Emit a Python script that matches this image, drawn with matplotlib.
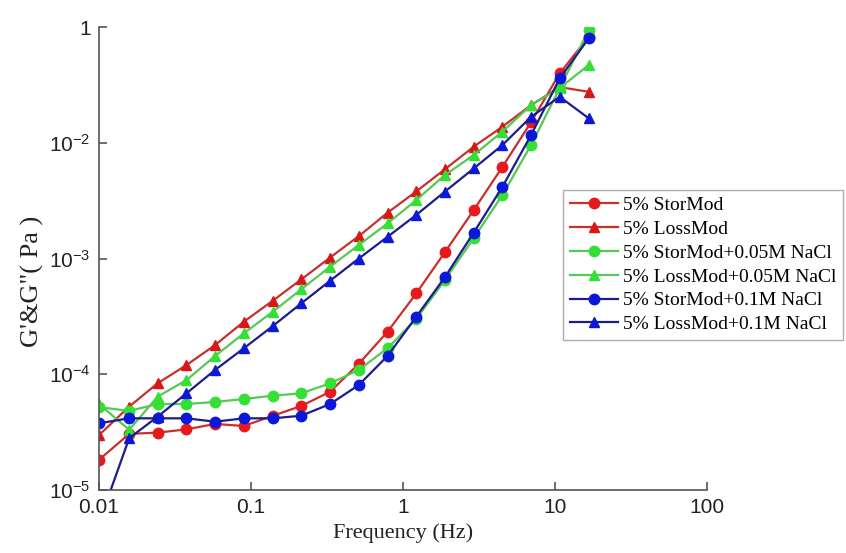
import numpy as np
import matplotlib.pyplot as plt
from matplotlib.ticker import FixedLocator, FixedFormatter, NullLocator

plt.rcParams["mathtext.fontset"] = "custom"
plt.rcParams["mathtext.rm"] = "Liberation Sans"
plt.rcParams["mathtext.it"] = "Liberation Sans"

OUT_PLOT = "out.png"

# oscillation frequency sweep (Hz)
freq = [0.01, 0.0158, 0.0243, 0.0376, 0.0581, 0.0898, 0.139, 0.214, 0.331,
        0.511, 0.79, 1.22, 1.88, 2.91, 4.5, 6.95, 10.7, 16.6]

# moduli (Pa)
stor_5 = [1.82e-5, 3.05e-5, 3.13e-5, 3.34e-5, 3.72e-5, 3.57e-5, 4.38e-5, 5.32e-5, 7.06e-5,
          1.23e-4, 2.33e-4, 5.0e-4, 1.13e-3, 2.62e-3, 6.2e-3, 1.51e-2, 3.98e-2, 8.25e-2]
loss_5 = [2.98e-5, 5.25e-5, 8.35e-5, 1.20e-4, 1.79e-4, 2.85e-4, 4.32e-4, 6.6e-4, 1.02e-3,
          1.56e-3, 2.49e-3, 3.8e-3, 5.9e-3, 9.25e-3, 1.38e-2, 2.12e-2, 3.03e-2, 2.76e-2]
stor_005 = [5.2e-5, 4.82e-5, 5.53e-5, 5.53e-5, 5.76e-5, 6.11e-5, 6.53e-5, 6.84e-5, 8.35e-5,
            1.09e-4, 1.68e-4, 3.0e-4, 6.5e-4, 1.5e-3, 3.54e-3, 9.6e-3, 2.97e-2, 9.4e-2]
loss_005 = [5.53e-5, 3.31e-5, 6.4e-5, 8.9e-5, 1.44e-4, 2.26e-4, 3.47e-4, 5.42e-4, 8.5e-4,
            1.31e-3, 2.01e-3, 3.2e-3, 5.26e-3, 7.84e-3, 1.25e-2, 2.12e-2, 2.97e-2, 4.7e-2]
stor_01 = [3.77e-5, 4.16e-5, 4.16e-5, 4.16e-5, 3.89e-5, 4.16e-5, 4.16e-5, 4.38e-5, 5.53e-5,
           8.07e-5, 1.44e-4, 3.14e-4, 6.88e-4, 1.67e-3, 4.17e-3, 1.17e-2, 3.6e-2, 7.98e-2]
loss_01 = [5.2e-6, 2.8e-5, 4.3e-5, 6.84e-5, 1.09e-4, 1.68e-4, 2.61e-4, 4.1e-4, 6.43e-4,
           1.0e-3, 1.54e-3, 2.38e-3, 3.78e-3, 6.0e-3, 9.57e-3, 1.68e-2, 2.5e-2, 1.63e-2]

labels = ["5% StorMod", "5% LossMod",
          "5% StorMod+0.05M NaCl", "5% LossMod+0.05M NaCl",
          "5% StorMod+0.1M NaCl", "5% LossMod+0.1M NaCl"]
series = [stor_5, loss_5, stor_005, loss_005, stor_01, loss_01]
markers = ["o", "^", "o", "^", "o", "^"]
line_colors = ["#c8302c", "#c8302c", "#55c855", "#55c855", "#1c1c8a", "#1c1c8a"]
face_colors = ["#e8191c", "#d81818", "#33e033", "#33e033", "#0c18d8", "#0c18d8"]

fig = plt.figure(figsize=(8.46, 5.53), dpi=100)
ax = fig.add_axes([0.117, 0.114, 0.719, 0.837])

for y, lab, m, lc, fc in zip(series, labels, markers, line_colors, face_colors):
    ax.plot(freq, y, color=lc, lw=1.6, marker=m, markersize=7.5,
            markerfacecolor=fc, markeredgecolor=fc, label=lab)

ax.set_xscale("log")
ax.set_yscale("log")
ax.set_xlim(0.01, 100)
ax.set_ylim(1e-5, 1e-1)

ax.xaxis.set_major_locator(FixedLocator([0.01, 0.1, 1, 10, 100]))
ax.xaxis.set_major_formatter(FixedFormatter(["0.01", "0.1", "1", "10", "100"]))
ax.yaxis.set_major_locator(FixedLocator([1e-5, 1e-4, 1e-3, 1e-2, 1e-1]))
ax.yaxis.set_major_formatter(FixedFormatter(
    [r"$10^{-5}$", r"$10^{-4}$", r"$10^{-3}$", r"$10^{-2}$", "1"]))
ax.xaxis.set_minor_locator(NullLocator())
ax.yaxis.set_minor_locator(NullLocator())

for side in ["top", "right"]:
    ax.spines[side].set_visible(False)
for side in ["left", "bottom"]:
    ax.spines[side].set_color("#555555")
    ax.spines[side].set_linewidth(1.2)
ax.tick_params(direction="in", length=6, width=1.2, color="#555555",
               labelsize=15, labelcolor="#222222", pad=6)
for t in ax.get_xticklabels() + ax.get_yticklabels():
    t.set_family("Liberation Sans")

ax.set_xlabel("Frequency (Hz)", family="Liberation Serif", fontsize=16,
              color="#222222", labelpad=4)
ax.set_ylabel("G'&G\"( Pa )", family="Liberation Serif", fontsize=19,
              color="#222222")
ax.yaxis.set_label_coords(-0.09, 0.45)

leg = fig.legend(loc="upper left", bbox_to_anchor=(0.6655, 0.657),
                 prop={"family": "Liberation Serif", "size": 14},
                 frameon=True, fancybox=False, handlelength=2.5,
                 handletextpad=0.25, borderpad=0.35, labelspacing=0.32,
                 borderaxespad=0)
leg.get_frame().set_edgecolor("#999999")
leg.get_frame().set_linewidth(1.0)

plt.savefig(OUT_PLOT, dpi=100)
